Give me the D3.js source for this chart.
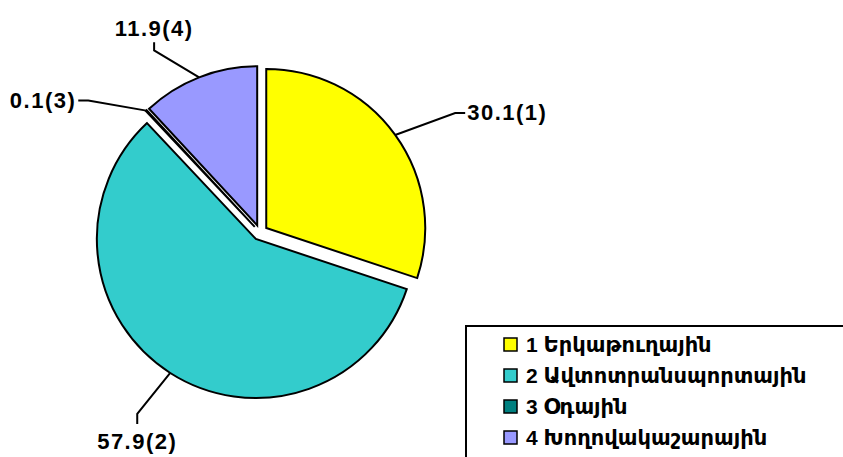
<!DOCTYPE html>
<html>
<head>
<meta charset="utf-8">
<script src="https://cdn.jsdelivr.net/npm/d3@7"></script>
<style>
  body { margin: 0; background: #fff; }
  text { font-family: "Liberation Sans", Arial, "DejaVu Sans", sans-serif; font-weight: bold; }
</style>
</head>
<body>
<script>
var w = 843;
var h = 457;

var categories = ['Երկաթուղային', 'Ավտոտրանսպորտային', 'Օդային', 'Խողովակաշարային'];
var values = [30.1, 57.9, 0.1, 11.9];
var colors = ['#FFFF00', '#33CCCC', '#008080', '#9999FF'];

// leader elbows, relative to the point on the arc
var leaders = [
  { elbow: [60, -22], end: [70, -22], anchor: 'start', dx: 2, dy: 7 },
  { elbow: [-33, 41], end: [-33, 51], anchor: 'middle', dx: 0, dy: 25 },
  { elbow: [-58, -10], end: [-68, -10], anchor: 'end', dx: -2, dy: 7 },
  { elbow: [-45, -27], end: [-45, -35], anchor: 'middle', dx: 0, dy: -6 }
];

var cx = 260, cy = 232.5, r = 159, explode = 7.7;

var svg = d3.select('body')
  .append('svg')
  .attr('width', w)
  .attr('height', h);

var pie = d3.pie().sort(null).value(function (d) { return d; });
var arcs = pie(values);

var arc = d3.arc().innerRadius(0).outerRadius(r);

function offset(d, dist) {
  var a = (d.startAngle + d.endAngle) / 2;
  return [Math.sin(a) * dist, -Math.cos(a) * dist];
}

var g = svg.append('g').attr('transform', 'translate(' + cx + ',' + cy + ')');

g.selectAll('path.slice')
  .data(arcs)
  .enter()
  .append('path')
  .attr('class', 'slice')
  .attr('transform', function (d) {
    var o = offset(d, explode);
    return 'translate(' + o[0] + ',' + o[1] + ')';
  })
  .attr('d', arc)
  .attr('fill', function (d, i) { return colors[i]; })
  .attr('stroke', '#000')
  .attr('stroke-width', 2)
  .attr('stroke-linejoin', 'miter');

arcs.forEach(function (d, i) {
  var o = offset(d, explode + r);
  var L = leaders[i];
  var p0 = [o[0], o[1]];
  var p1 = [o[0] + L.elbow[0], o[1] + L.elbow[1]];
  var p2 = [o[0] + L.end[0], o[1] + L.end[1]];
  g.append('polyline')
    .attr('points', [p0, p1, p2].map(function (p) { return p.join(','); }).join(' '))
    .attr('fill', 'none')
    .attr('stroke', '#000')
    .attr('stroke-width', 2);
  g.append('text')
    .attr('x', p2[0] + L.dx)
    .attr('y', p2[1] + L.dy)
    .attr('text-anchor', L.anchor)
    .attr('font-size', 22)
    .attr('letter-spacing', 1.5)
    .text(d3.format('.1f')(values[i]) + '(' + (i + 1) + ')');
});

// legend
var legend = svg.append('g').attr('transform', 'translate(466,326)');
legend.append('rect')
  .attr('width', 400)
  .attr('height', 200)
  .attr('fill', '#fff')
  .attr('stroke', '#000')
  .attr('stroke-width', 2);

var rows = legend.selectAll('g.item')
  .data(categories)
  .enter()
  .append('g')
  .attr('class', 'item')
  .attr('transform', function (d, i) { return 'translate(38,' + (12 + i * 31) + ')'; });

rows.append('rect')
  .attr('width', 13)
  .attr('height', 13)
  .attr('fill', function (d, i) { return colors[i]; })
  .attr('stroke', '#000')
  .attr('stroke-width', 1.5);

rows.append('text')
  .attr('x', 22)
  .attr('y', 14)
  .attr('font-size', 21)
  .text(function (d, i) { return (i + 1) + ' ' + d; });
</script>
</body>
</html>
